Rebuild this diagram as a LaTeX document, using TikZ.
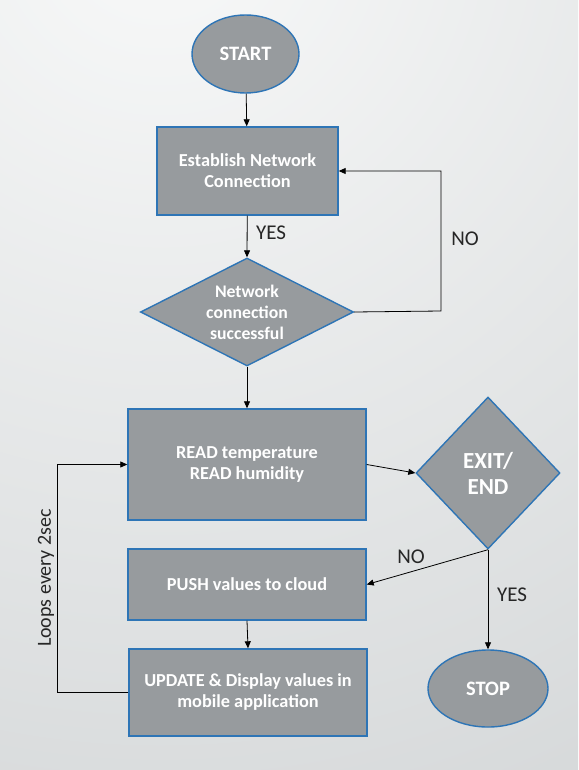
\documentclass[tikz,border=0pt]{standalone}
\usepackage{fontspec}
\setmainfont{Carlito}
\usetikzlibrary{shapes.geometric,arrows.meta}
\definecolor{boxfill}{RGB}{151,155,158}
\definecolor{boxline}{RGB}{46,117,182}
\definecolor{bgtop}{RGB}{248,249,249}
\definecolor{bgbot}{RGB}{190,194,196}
\tikzset{
  base/.style={draw=boxline,fill=boxfill,line width=1.4pt,text=white,font=\fontsize{18.3}{21}\selectfont\bfseries,align=center,inner sep=0pt},
  procbox/.style={base,rectangle},
  term/.style={base,ellipse,font=\fontsize{20.5}{23}\selectfont\bfseries},
  decide/.style={base,diamond},
  conn/.style={line width=0.8pt,-{Triangle[length=7pt,width=6pt]}},
  lbl/.style={font=\fontsize{21}{24}\selectfont,text=black!85}
}
\begin{document}
\begin{tikzpicture}[x=1pt,y=-1pt]
\useasboundingbox (0,0) rectangle (578,770);
\begin{scope}
\clip (0,0) rectangle (578,770);
\shade[inner color=bgtop,outer color=bgbot] (160,-80) circle (1650);
\end{scope}

\node[term,minimum width=107pt,minimum height=78pt] (start) at (245.5,54) {START};
\node[procbox,minimum width=181pt,minimum height=88pt] (est) at (247.5,171) {Establish Network\\Connection};
\node[decide,minimum width=213pt,minimum height=108pt,aspect=2,font=\fontsize{17.7}{21}\selectfont\bfseries] (d1) at (247,312) {Network\\connection\\successful};
\node[procbox,minimum width=238pt,minimum height=111pt] (read) at (247,464.5) {READ temperature\\READ humidity};
\node[decide,minimum width=144pt,minimum height=152pt,aspect=0.95,font=\fontsize{23}{26}\selectfont\bfseries] (exit) at (488,473) {EXIT/\\END};
\node[procbox,minimum width=238pt,minimum height=71pt] (push) at (247,584.5) {PUSH values to cloud};
\node[procbox,minimum width=238pt,minimum height=87pt] (upd) at (248,692.5) {UPDATE \& Display values in\\mobile application};
\node[term,minimum width=120pt,minimum height=77pt] (stop) at (488,688.5) {STOP};

\coordinate (noright) at (441,311);
\coordinate (loopleft) at (57,692.5);

\draw[conn] (start) -- (est);
\draw[conn] (est) -- (d1.north);
\draw[conn] (d1.east) -- (noright) |- (est.east);
\draw[conn] (d1.south) -- (read.north);
\draw[conn] (read.east) -- (exit.west);
\draw[conn] (exit.south) -- (push.east);
\draw[conn] (exit.south) -- (stop.north);
\draw[conn] (push.south) -- (upd.north);
\draw[conn] (upd.west) -- (loopleft) |- (read.west);

\node[lbl] (yes1) at (271,233) {YES};
\node[lbl] (no1) at (465,239) {NO};
\node[lbl] (no2) at (411,557) {NO};
\node[lbl] (yes2) at (512,595) {YES};
\node[lbl,rotate=90,font=\fontsize{20}{22}\selectfont] (loops) at (46,578) {Loops every 2sec};
\end{tikzpicture}
\end{document}
